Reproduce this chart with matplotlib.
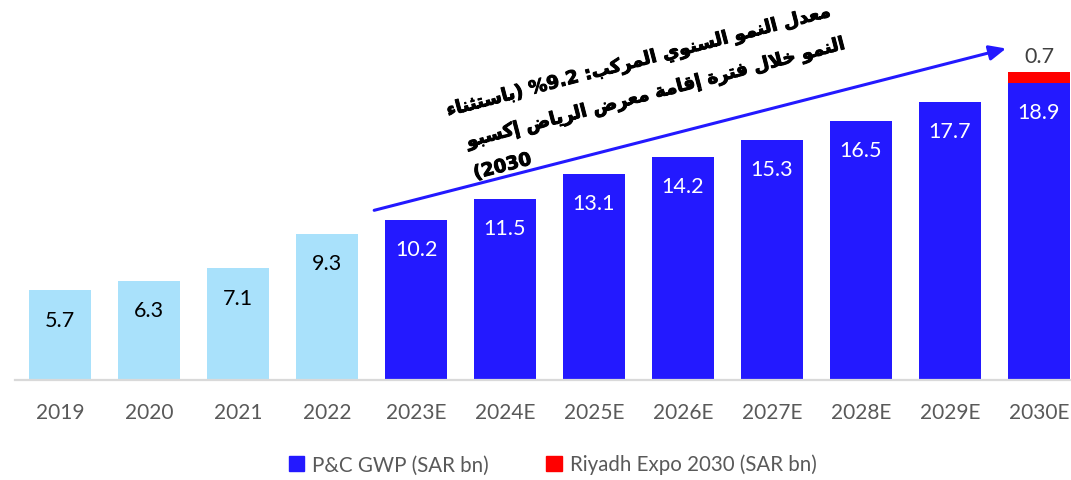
import matplotlib
matplotlib.use("Agg")
import matplotlib.pyplot as plt
import matplotlib.patheffects as pe
from matplotlib.patches import Patch

# chart data
years = ['2019', '2020', '2021', '2022', '2023E', '2024E', '2025E',
         '2026E', '2027E', '2028E', '2029E', '2030E']
gwp = [5.7, 6.3, 7.1, 9.3, 10.2, 11.5, 13.1, 14.2, 15.3, 16.5, 17.7, 18.9]
expo = [0, 0, 0, 0, 0, 0, 0, 0, 0, 0, 0, 0.7]
n_actual = 4  # historical years drawn in light blue

legend_labels = ['P&C GWP (SAR bn)', 'Riyadh Expo 2030 (SAR bn)']
note_lines = ['معدل النمو السنوي المركب: 9.2% (باستثناء',
              'النمو خلال فترة إقامة معرض الرياض إكسبو',
              '2030)']

LIGHT = '#A9E1FB'
BLUE = '#2319FF'
RED = '#FF0000'
GREY = '#595959'

# --- minimal arabic shaping (matplotlib has no bidi / joining support) ---
DUAL = {'ب': 0xFE8F, 'ت': 0xFE95, 'ث': 0xFE99, 'ج': 0xFE9D, 'ح': 0xFEA1,
        'خ': 0xFEA5, 'س': 0xFEB1, 'ش': 0xFEB5, 'ص': 0xFEB9, 'ض': 0xFEBD,
        'ط': 0xFEC1, 'ظ': 0xFEC5, 'ع': 0xFEC9, 'غ': 0xFECD, 'ف': 0xFED1,
        'ق': 0xFED5, 'ك': 0xFED9, 'ل': 0xFEDD, 'م': 0xFEE1, 'ن': 0xFEE5,
        'ه': 0xFEE9, 'ي': 0xFEF1}
RIGHT = {'ا': 0xFE8D, 'أ': 0xFE83, 'إ': 0xFE87, 'آ': 0xFE81, 'د': 0xFEA9,
         'ذ': 0xFEAB, 'ر': 0xFEAD, 'ز': 0xFEAF, 'و': 0xFEED, 'ة': 0xFE93,
         'ى': 0xFEEF}
LAM_ALEF = {'ا': 0xFEFB, 'أ': 0xFEF7, 'إ': 0xFEF9, 'آ': 0xFEF5}
MIRROR = {'(': ')', ')': '('}


def shape_word(w):
    chars = []
    i = 0
    while i < len(w):
        if w[i] == 'ل' and i + 1 < len(w) and w[i + 1] in LAM_ALEF:
            chars.append(('LA', LAM_ALEF[w[i + 1]]))
            i += 2
        else:
            chars.append((w[i], None))
            i += 1
    out = []
    for k, (c, lig) in enumerate(chars):
        prev = chars[k - 1][0] if k > 0 else None
        nxt = chars[k + 1][0] if k + 1 < len(chars) else None
        jp = prev in DUAL
        if lig:
            out.append(chr(lig + (1 if jp else 0)))
        elif c in DUAL:
            jn = nxt is not None and (nxt in DUAL or nxt in RIGHT or nxt == 'LA')
            form = 3 if (jp and jn) else 1 if jp else 2 if jn else 0
            out.append(chr(DUAL[c] + form))
        elif c in RIGHT:
            out.append(chr(RIGHT[c] + (1 if jp else 0)))
        elif c == 'ء':
            out.append('\uFE80')
        else:
            out.append(c)
    return ''.join(reversed(out))


def rtl(line):
    parts = []
    for w in reversed(line.split(' ')):
        core = w.strip('():%')
        a = w.find(core)
        lead, trail = w[:a], w[a + len(core):]
        is_ar = any('\u0600' <= ch <= '\u06FF' for ch in core)
        body = shape_word(core) if is_ar else core
        parts.append(''.join(MIRROR.get(ch, ch) for ch in reversed(trail))
                     + body
                     + ''.join(MIRROR.get(ch, ch) for ch in reversed(lead)))
    return ' '.join(parts)


plt.rcParams['font.family'] = ['Lato', 'DejaVu Sans']

W, H = 1071, 481
fig = plt.figure(figsize=(W / 100, H / 100), dpi=100)
ax = fig.add_axes([15 / W, 100 / H, 1 - 15 / W, 381 / H])

x = list(range(len(years)))
colors = [LIGHT if i < n_actual else BLUE for i in x]
ax.bar(x, gwp, width=0.70, color=colors, zorder=2)
ax.bar(x, expo, bottom=gwp, width=0.70, color=RED, zorder=2)

for i, v in enumerate(gwp):
    ax.annotate(f'{v:.1f}', (i, v), xytext=(0, -21), textcoords='offset points',
                ha='center', va='center', fontsize=15.5,
                color='black' if i < n_actual else 'white')
for i, v in enumerate(expo):
    if v > 0:
        ax.annotate(f'{v:.1f}', (i, gwp[i] + v), xytext=(0, 11.5),
                    textcoords='offset points', ha='center', va='center',
                    fontsize=15.5, color='#404040')

ax.set_xlim(-0.506, 11.36)
ax.set_ylim(0, 24.25)
ax.set_xticks(x)
ax.set_xticklabels(years, fontsize=15, color=GREY)
ax.tick_params(axis='x', length=0, pad=15.5)
ax.set_yticks([])
for s in ['top', 'left', 'right']:
    ax.spines[s].set_visible(False)
ax.spines['bottom'].set_color('#D9D9D9')
ax.spines['bottom'].set_linewidth(1.6)

# CAGR arrow
ax.annotate('', xy=(10.63, 21.1), xytext=(3.53, 10.8),
            arrowprops=dict(arrowstyle='-|>,head_length=1.0,head_width=0.45',
                            color=BLUE, lw=2.2, shrinkA=0, shrinkB=0))

# rotated arabic note
starts = [(448, 117), (468, 148), (475, 180)]
for (px, py), txt in zip(starts, note_lines):
    fig.text(px / W, 1 - py / H, rtl(txt), rotation=14.6, rotation_mode='anchor',
             ha='left', va='baseline', fontsize=13.2, fontweight='bold',
             family='DejaVu Sans', color='black',
             path_effects=[pe.withStroke(linewidth=0.7, foreground='black')])

handles = [Patch(color=BLUE), Patch(color=RED)]
fig.legend(handles, legend_labels, loc='center', bbox_to_anchor=(0.516, 0.033),
           ncol=2, frameon=False, fontsize=14.8, labelcolor=GREY,
           handlelength=0.75, handleheight=0.75, handletextpad=0.4,
           columnspacing=2.8)

fig.savefig('out.png', dpi=100)
